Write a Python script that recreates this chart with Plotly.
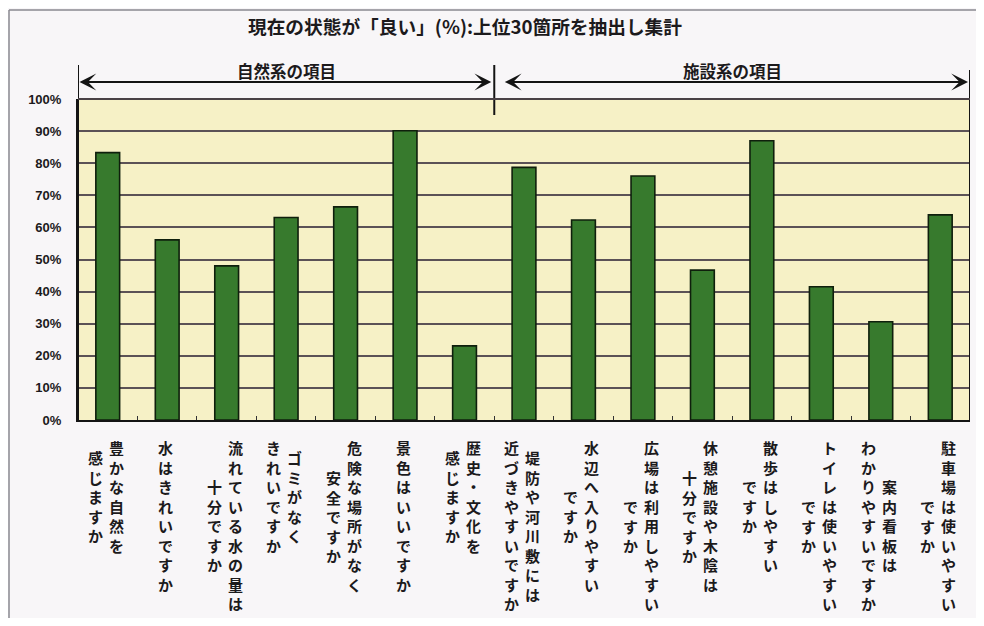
import plotly.graph_objects as go

# ---------------- data ----------------
title_text = "現在の状態が「良い」(%):上位30箇所を抽出し集計"

# vertical label columns, right column first (Japanese vertical writing)
label_lines = [
    ["豊かな自然を", "感じますか"],
    ["水はきれいですか"],
    ["流れている水の量は", "十分ですか"],
    ["ゴミがなく", "きれいですか"],
    ["危険な場所がなく", "安全ですか"],
    ["景色はいいですか"],
    ["歴史・文化を", "感じますか"],
    ["堤防や河川敷には", "近づきやすいですか"],
    ["水辺へ入りやすい", "ですか"],
    ["広場は利用しやすい", "ですか"],
    ["休憩施設や木陰は", "十分ですか"],
    ["散歩はしやすい", "ですか"],
    ["トイレは使いやすい", "ですか"],
    ["案内看板は", "わかりやすいですか"],
    ["駐車場は使いやすい", "ですか"],
]
categories = ["".join(l) for l in label_lines]
values = [83.3, 56.1, 48.0, 63.1, 66.4, 90.1, 23.1, 78.7, 62.3, 76.0, 46.7, 87.0, 41.5, 30.6, 63.9]

group_names = ["自然系の項目", "施設系の項目"]
group_sizes = [7, 8]

y_ticks = [0, 10, 20, 30, 40, 50, 60, 70, 80, 90, 100]
y_tick_labels = [f"{v}%" for v in y_ticks]

# ---------------- layout constants ----------------
# page body has an 8px margin on every side; positions below are window pixels
OX, OY = 8, 8
WIN_W, WIN_H = 984, 626
W, H = WIN_W - 2 * OX, WIN_H - 2 * OY
FIG_R, FIG_B = OX + W, OY + H
PLOT_L, PLOT_R, PLOT_T, PLOT_B = 78, 970, 99, 420
ML, MR = PLOT_L - OX, FIG_R - PLOT_R
MT, MB = PLOT_T - OY, FIG_B - PLOT_B
PW, PH = PLOT_R - PLOT_L, PLOT_B - PLOT_T
N = len(categories)
CW = PW / N


def py_to_paper(py):
    return (PLOT_B - py) / PH


def px_to_paper(px):
    return (px - PLOT_L) / PW


JP = "Noto Sans CJK JP"
TXT = "#1c1a1c"
LINE = "#141414"

fig = go.Figure()
fig.add_trace(go.Bar(
    x=categories, y=values,
    marker=dict(color="#377a2d", line=dict(color="#0f1f0c", width=1.6)),
    hoverinfo="x+y",
))

annotations = []
shapes = []

# x labels drawn as vertical text columns
PITCH = 19.5
COLGAP = 21
LABEL_TOP = 438
for i, lines in enumerate(label_lines):
    maxL = max(len(s) for s in lines)
    k = len(lines)
    for j, s in enumerate(lines):
        annotations.append(dict(
            x=categories[i], xref="x", y=0, yref="paper",
            xanchor="center", yanchor="middle",
            text="<br>".join(list(s)), showarrow=False, align="center",
            xshift=((k - 1) / 2 - j) * COLGAP - 2,
            yshift=-(LABEL_TOP - PLOT_B) - maxL * PITCH / 2,
            font=dict(family=JP, size=15, color=TXT, weight="bold"),
        ))

# group arrows & labels
start = -0.5
bounds = [start]
for gi, (name, size) in enumerate(zip(group_names, group_sizes)):
    end = start + size
    bounds.append(end)
    annotations.append(dict(
        x=end, xref="x", y=py_to_paper(82), yref="paper",
        ax=-(end - start) * CW, ay=0, axref="pixel", ayref="pixel",
        text="", showarrow=True,
        arrowhead=3, startarrowhead=3, arrowside="end+start",
        arrowsize=1.4, startarrowsize=1.4, arrowwidth=2, arrowcolor=LINE,
        standoff=2 if gi == len(group_names) - 1 else 3,
        startstandoff=0 if gi == 0 else 9,
    ))
    annotations.append(dict(
        x=(start + end) / 2, xref="x", y=py_to_paper(71), yref="paper",
        text=name, showarrow=False, xanchor="center", yanchor="middle",
        font=dict(family=JP, size=16.5, color=TXT, weight="bold"),
    ))
    start = end

# vertical separator lines
shapes.append(dict(type="line", xref="x", yref="paper", x0=bounds[0], x1=bounds[0],
                   y0=0, y1=py_to_paper(65), line=dict(color=LINE, width=2)))
for b in bounds[1:-1]:
    shapes.append(dict(type="line", xref="x", yref="paper", x0=b, x1=b,
                       y0=py_to_paper(115), y1=py_to_paper(65), line=dict(color=LINE, width=2)))
shapes.append(dict(type="line", xref="x", yref="paper", x0=bounds[-1], x1=bounds[-1],
                   y0=0, y1=py_to_paper(70), line=dict(color=LINE, width=2)))

# top (100%) border line of plot area
shapes.append(dict(type="line", xref="paper", yref="paper", x0=0, x1=1, y0=1, y1=1,
                   line=dict(color="#4a4246", width=1.8)))

# outer frame (top and left edges visible)
FRAME = dict(color="#8a8890", width=1.5)
shapes.append(dict(type="line", xref="paper", yref="paper",
                   x0=px_to_paper(9), x1=px_to_paper(FIG_R + 5),
                   y0=py_to_paper(10), y1=py_to_paper(10), line=FRAME, layer="below"))
shapes.append(dict(type="line", xref="paper", yref="paper",
                   x0=px_to_paper(9), x1=px_to_paper(9),
                   y0=py_to_paper(10), y1=py_to_paper(FIG_B + 5), line=FRAME, layer="below"))

fig.update_layout(
    width=W, height=H,
    margin=dict(l=ML, r=MR, t=MT, b=MB, autoexpand=False),
    paper_bgcolor="#f8f6f8",
    plot_bgcolor="#f6f1c6",
    bargap=0.6,
    showlegend=False,
    title=dict(text=title_text, xref="container", yref="container",
               x=(465 - OX) / W, y=1 - (27 - OY) / H, xanchor="center", yanchor="middle",
               font=dict(family=JP, size=18.7, color=TXT, weight="bold")),
    xaxis=dict(type="category", showticklabels=False, ticks="inside", tickson="boundaries",
               ticklen=4, tickcolor="#333", tickwidth=1,
               showline=True, linecolor=LINE, linewidth=2, showgrid=False,
               range=[-0.5, N - 0.5]),
    yaxis=dict(range=[0, 100], tickmode="array", tickvals=y_ticks, ticktext=y_tick_labels,
               showgrid=True, gridcolor="#5b5256", gridwidth=1.5,
               showline=True, linecolor=LINE, linewidth=2, zeroline=False,
               ticks="", ticklabelstandoff=12,
               tickfont=dict(family="Liberation Sans, Arial", size=13, color=TXT, weight="bold")),
    annotations=annotations,
    shapes=shapes,
)

fig.write_html("out.html")
